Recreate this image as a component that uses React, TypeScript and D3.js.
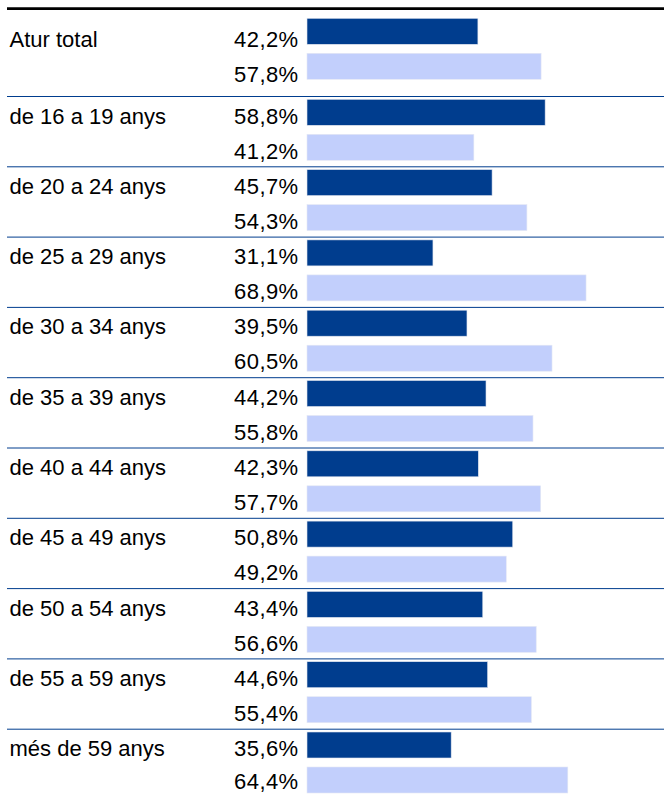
import React from "react";
import * as d3 from "d3";

const categories = [
  "Atur total",
  "de 16 a 19 anys",
  "de 20 a 24 anys",
  "de 25 a 29 anys",
  "de 30 a 34 anys",
  "de 35 a 39 anys",
  "de 40 a 44 anys",
  "de 45 a 49 anys",
  "de 50 a 54 anys",
  "de 55 a 59 anys",
  "més de 59 anys",
];
const darkValues = [42.2, 58.8, 45.7, 31.1, 39.5, 44.2, 42.3, 50.8, 43.4, 44.6, 35.6];
const lightValues = [57.8, 41.2, 54.3, 68.9, 60.5, 55.8, 57.7, 49.2, 56.6, 55.4, 64.4];

const W = 664;
const H = 794;
const DARK = "#003D8E";
const LIGHT = "#C2CFFC";
const FONT = "'Liberation Sans', Arial, Helvetica, sans-serif";

const fmt = (v: number) => v.toFixed(1).replace(".", ",") + "%";

export default function App() {
  const x = d3.scaleLinear().domain([0, 100]).range([307, 712]);
  const groupStep = 70.3;
  const y = d3
    .scaleBand<string>()
    .domain(categories)
    .range([96 - groupStep, 96 - groupStep + groupStep * categories.length])
    .paddingInner(0)
    .paddingOuter(0);
  const firstShift = -10.7;
  const groupTop = (c: string, i: number) => (y(c) as number) + (i === 0 ? firstShift : 0);
  const barH = 26;
  const darkOff = 3.3;
  const lightOff = 38.3;
  const baseOff = 24.2;
  const fs = 22;

  return (
    <svg
      width={W}
      height={H}
      style={{ position: "absolute", left: 0, top: 0, display: "block", background: "#fff" }}
    >
      <rect x={0} y={0} width={W} height={H} fill="#fff" />
      {/* top rule */}
      <line x1={7} x2={W} y1={8.7} y2={8.7} stroke="#000" strokeWidth={2.7} />
      {categories.map((c, i) => {
        const gt = groupTop(c, i);
        const dTop = gt + darkOff;
        const lTop = gt + lightOff;
        const tShift = i === 0 ? 4 : 0;
        // keep the bottom-most label's descender inside the canvas
        const lastShift = i === categories.length - 1 ? -2.2 : 0;
        return (
          <g key={c}>
            {i > 0 && (
              <line x1={7} x2={W} y1={gt + 0.5} y2={gt + 0.5} stroke={DARK} strokeWidth={1} />
            )}
            <rect
              x={x(0)}
              y={dTop}
              width={x(darkValues[i]) - x(0)}
              height={barH}
              fill={DARK}
              stroke="#dfe4ee"
              strokeWidth={0.6}
            />
            <rect
              x={x(0)}
              y={lTop}
              width={x(lightValues[i]) - x(0)}
              height={barH}
              fill={LIGHT}
              stroke="#e4e8f4"
              strokeWidth={0.6}
            />
            <text x={9.5} y={dTop + baseOff + tShift} fontFamily={FONT} fontSize={fs} fill="#000">
              {c}
            </text>
            <text
              x={298.5}
              y={dTop + baseOff + tShift}
              fontFamily={FONT}
              fontSize={fs}
              fill="#000"
              textAnchor="end"
              letterSpacing={0.4}
            >
              {fmt(darkValues[i])}
            </text>
            <text
              x={298.5}
              y={lTop + baseOff + tShift + lastShift}
              fontFamily={FONT}
              fontSize={fs}
              fill="#000"
              textAnchor="end"
              letterSpacing={0.4}
            >
              {fmt(lightValues[i])}
            </text>
          </g>
        );
      })}
    </svg>
  );
}
